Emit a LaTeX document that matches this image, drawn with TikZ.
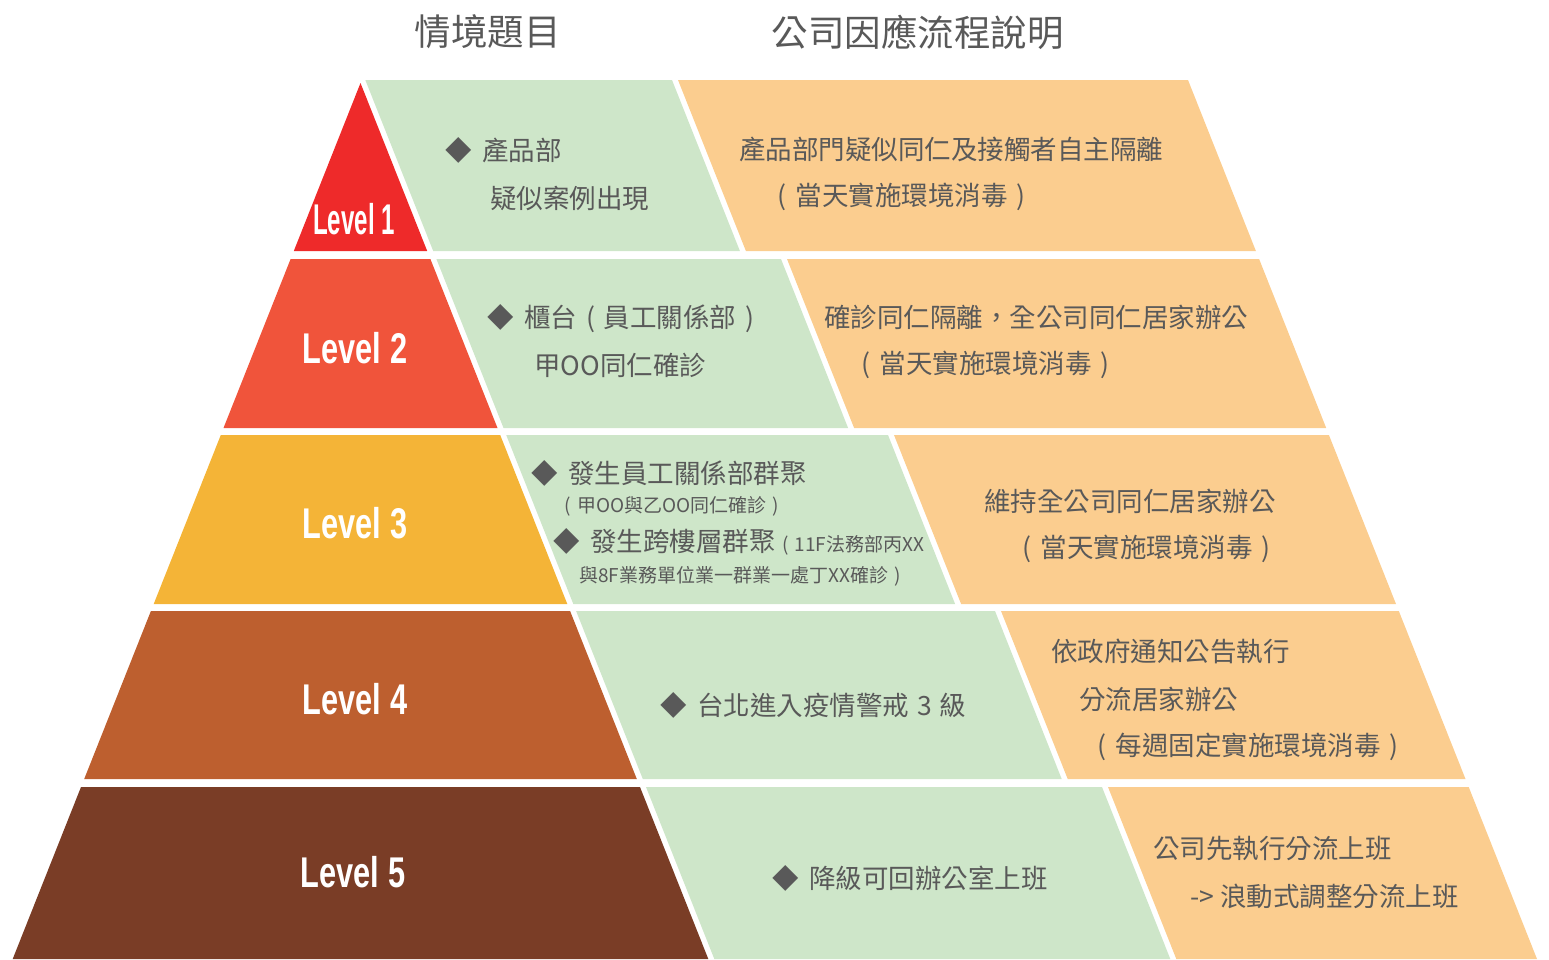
\documentclass[tikz,border=0pt]{standalone}
\usepackage{graphicx}
\usepackage{fontspec}
\newfontfamily\cjk{Noto Sans CJK TC}
\newfontfamily\lvlfont{Liberation Sans}
\newcommand\lpar{\makebox[1em][c]{(}}
\newcommand\rpar{\makebox[1em][c]{)}}
\definecolor{lvA}{HTML}{EE2A2A}
\definecolor{lvB}{HTML}{F0543B}
\definecolor{lvC}{HTML}{F4B437}
\definecolor{lvD}{HTML}{BD5F2F}
\definecolor{lvE}{HTML}{7A3D26}
\definecolor{greenband}{HTML}{CEE6C9}
\definecolor{orangeband}{HTML}{FBCD8F}
\definecolor{txtgray}{HTML}{595959}
\begin{document}
\begin{tikzpicture}[x=1pt,y=-1pt,
  body/.style={anchor=west,inner sep=0pt,text=txtgray,font=\cjk\fontsize{26.5}{30}\selectfont},
  smalltxt/.style={anchor=west,inner sep=0pt,text=txtgray,font=\cjk\fontsize{19}{22}\selectfont},
  head/.style={inner sep=0pt,text=txtgray,font=\cjk\fontsize{36.5}{40}\selectfont},
  lvl/.style={inner sep=0pt,text=white,font=\lvlfont\bfseries\fontsize{43}{46}\selectfont}]
\useasboundingbox (0,0) rectangle (1549,959);

% pyramid
\fill[lvA] (360.5,83) -- (427.2,251) -- (293.8,251) -- cycle;
\fill[lvB] (290.6,259) -- (430.4,259) -- (497.5,428) -- (223.5,428) -- cycle;
\fill[lvC] (220.8,435) -- (500.2,435) -- (567.3,604) -- (153.7,604) -- cycle;
\fill[lvD] (150.9,611) -- (570.1,611) -- (636.8,779) -- (84.2,779) -- cycle;
\fill[lvE] (81.0,787) -- (640.0,787) -- (708.3,959) -- (12.7,959) -- cycle;

% green bands
\fill[greenband] (365.3,80) -- (672,80) -- (739.9,251) -- (433.2,251) -- cycle;
\fill[greenband] (436.4,259) -- (781,259) -- (848.1,428) -- (503.5,428) -- cycle;
\fill[greenband] (506.2,435) -- (888,435) -- (955.1,604) -- (573.3,604) -- cycle;
\fill[greenband] (576.1,611) -- (995,611) -- (1061.7,779) -- (642.8,779) -- cycle;
\fill[greenband] (646,787) -- (1102,787) -- (1170.3,959) -- (714.3,959) -- cycle;

% orange bands
\fill[orangeband] (678,80) -- (1188,80) -- (1255.9,251) -- (745.9,251) -- cycle;
\fill[orangeband] (787,259) -- (1259.1,259) -- (1326.2,428) -- (854.1,428) -- cycle;
\fill[orangeband] (894,435) -- (1328.9,435) -- (1396,604) -- (961.1,604) -- cycle;
\fill[orangeband] (1001,611) -- (1398.8,611) -- (1465.5,779) -- (1067.7,779) -- cycle;
\fill[orangeband] (1108,787) -- (1468.7,787) -- (1537,959) -- (1176.3,959) -- cycle;

% headers
\node[head] (h1) at (487.5,32) {情境題目};
\node[head] (h2) at (917.5,32) {公司因應流程說明};

% level labels
\node[lvl] (l1) at (354,219) {\scalebox{0.56}[1]{Level 1}};
\node[lvl] (l2) at (355,348) {\scalebox{0.715}[1]{Level 2}};
\node[lvl] (l3) at (355,523) {\scalebox{0.715}[1]{Level 3}};
\node[lvl] (l4) at (355,699) {\scalebox{0.715}[1]{Level 4}};
\node[lvl] (l5) at (353,872) {\scalebox{0.715}[1]{Level 5}};

% level 1 texts
\node[body] (g1a) at (445,150) {◆\hspace{0.4em}產品部};
\node[body] (g1b) at (490,198) {疑似案例出現};
\node[body] (o1a) at (739,149.5) {產品部門疑似同仁及接觸者自主隔離};
\node[body] (o1b) at (769,197) {\lpar 當天實施環境消毒\rpar};

% level 2 texts
\node[body] (g2a) at (487,318.5) {◆\hspace{0.4em}櫃台\lpar 員工關係部\rpar};
\node[body] (g2b) at (534,365) {甲OO同仁確診};
\node[body] (o2a) at (824,317.5) {確診同仁隔離，全公司同仁居家辦公};
\node[body] (o2b) at (853,365) {\lpar 當天實施環境消毒\rpar};

% level 3 texts
\node[body] (g3a) at (531,473) {◆\hspace{0.4em}發生員工關係部群聚};
\node[smalltxt] (g3b) at (558,506.5) {\lpar 甲OO與乙OO同仁確診\rpar};
\node[body] (g3c) at (553,541.5) {◆\hspace{0.4em}發生跨樓層群聚{\fontsize{19}{22}\selectfont\lpar 11F法務部丙XX}};
\node[smalltxt] (g3d) at (579,576) {與8F業務單位業一群業一處丁XX確診\rpar};
\node[body] (o3a) at (984,501) {維持全公司同仁居家辦公};
\node[body] (o3b) at (1014,549) {\lpar 當天實施環境消毒\rpar};

% level 4 texts
\node[body] (g4a) at (660,705) {◆\hspace{0.4em}台北進入疫情警戒\hspace{0.3em}3\hspace{0.3em}級};
\node[body] (o4a) at (1051,651.5) {依政府通知公告執行};
\node[body] (o4b) at (1079,699.5) {分流居家辦公};
\node[body] (o4c) at (1089,746.5) {\lpar 每週固定實施環境消毒\rpar};

% level 5 texts
\node[body] (g5a) at (772,878) {◆\hspace{0.4em}降級可回辦公室上班};
\node[body] (o5a) at (1153,848.5) {公司先執行分流上班};
\node[body] (o5b) at (1190,896) {-> 浪動式調整分流上班};
\end{tikzpicture}
\end{document}
